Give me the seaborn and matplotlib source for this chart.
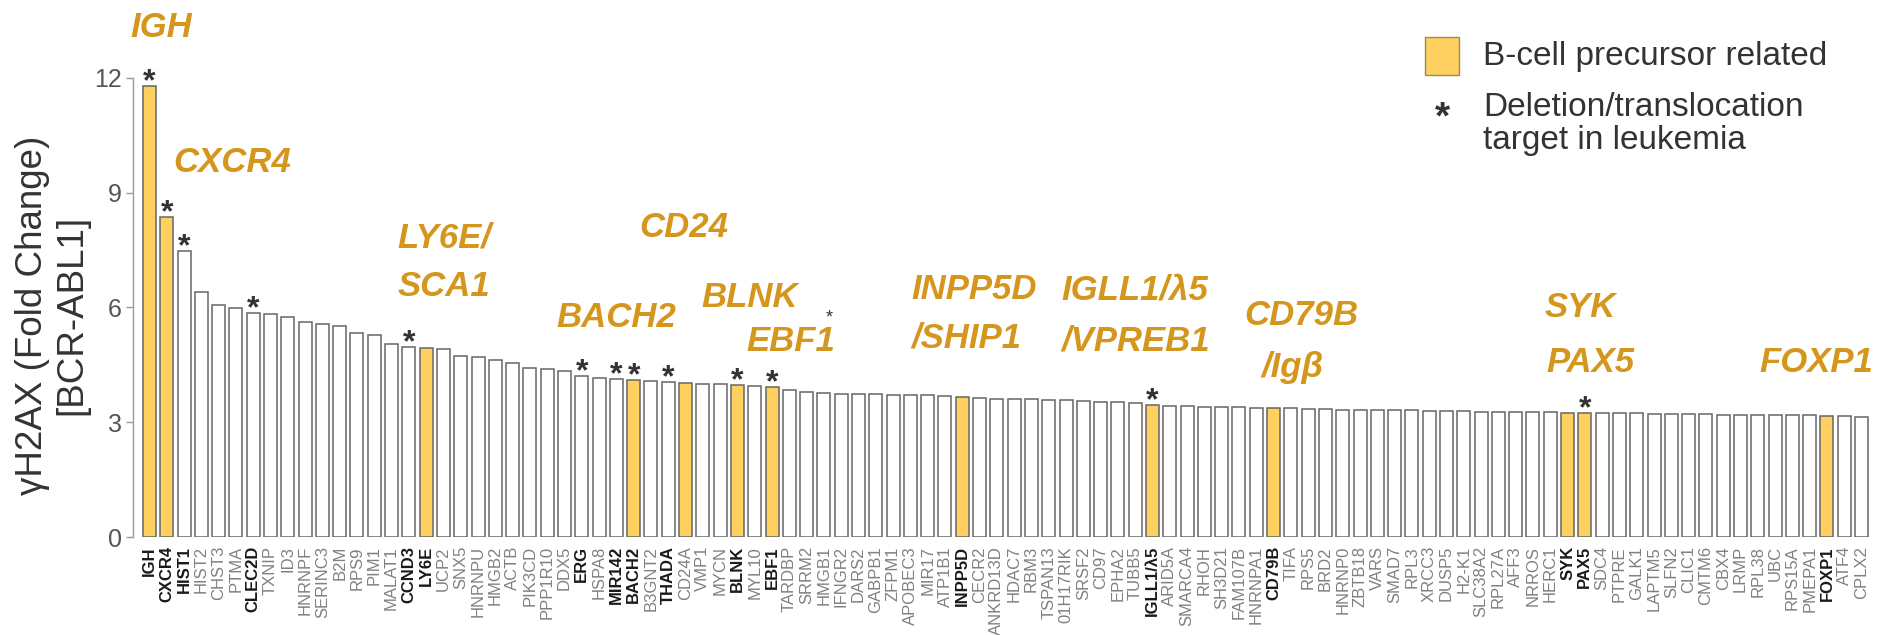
import pandas as pd
import numpy as np
from matplotlib import pyplot as plt
from matplotlib.patches import Rectangle
import seaborn as sns

# genes, ranked by fold change
genes = ["IGH", "CXCR4", "HIST1", "HIST2", "CHST3", "PTMA", "CLEC2D", "TXNIP", "ID3", "HNRNPF",
         "SERINC3", "B2M", "RPS9", "PIM1", "MALAT1", "CCND3", "LY6E", "UCP2", "SNX5", "HNRNPU",
         "HMGB2", "ACTB", "PIK3CD", "PPP1R10", "DDX5", "ERG", "HSPA8", "MIR142", "BACH2", "B3GNT2",
         "THADA", "CD24A", "VMP1", "MYCN", "BLNK", "MYL10", "EBF1", "TARDBP", "SRRM2", "HMGB1",
         "IFNGR2", "DARS2", "GABPB1", "ZFPM1", "APOBEC3", "MIR17", "ATP1B1", "INPP5D", "CECR2", "ANKRD13D",
         "HDAC7", "RBM3", "TSPAN13", "01H17RIK", "SRSF2", "CD97", "EPHA2", "TUBB5", "IGLL1/λ5", "ARID5A",
         "SMARCA4", "RHOH", "SH3D21", "FAM107B", "HNRNPA1", "CD79B", "TIFA", "RPS5", "BRD2", "HNRNP0",
         "ZBTB18", "VARS", "SMAD7", "RPL3", "XRCC3", "DUSP5", "H2-K1", "SLC38A2", "RPL27A", "AFF3",
         "NRROS", "HERC1", "SYK", "PAX5", "SDC4", "PTPRE", "GALK1", "LAPTM5", "SLFN2", "CLIC1",
         "CMTM6", "CBX4", "LRMP", "RPL38", "UBC", "RPS15A", "PMEPA1", "FOXP1", "ATF4", "CPLX2"]

fold_change = [11.80, 8.37, 7.48, 6.41, 6.07, 5.99, 5.86, 5.84, 5.75, 5.62,
               5.57, 5.52, 5.33, 5.28, 5.05, 4.97, 4.95, 4.92, 4.73, 4.71,
               4.63, 4.55, 4.42, 4.38, 4.33, 4.22, 4.17, 4.13, 4.10, 4.07,
               4.05, 4.03, 4.01, 4.00, 3.97, 3.95, 3.92, 3.84, 3.80, 3.77,
               3.75, 3.74, 3.73, 3.72, 3.71, 3.70, 3.68, 3.66, 3.64, 3.62,
               3.61, 3.60, 3.59, 3.58, 3.56, 3.54, 3.52, 3.50, 3.45, 3.43,
               3.42, 3.41, 3.40, 3.39, 3.38, 3.37, 3.36, 3.35, 3.34, 3.33,
               3.33, 3.32, 3.31, 3.31, 3.30, 3.30, 3.29, 3.28, 3.28, 3.27,
               3.27, 3.26, 3.25, 3.24, 3.24, 3.23, 3.23, 3.22, 3.22, 3.21,
               3.21, 3.20, 3.20, 3.19, 3.19, 3.18, 3.18, 3.17, 3.16, 3.15]

bcell_genes = ["IGH", "CXCR4", "LY6E", "BACH2", "CD24A", "BLNK", "EBF1", "INPP5D",
               "IGLL1/λ5", "CD79B", "SYK", "PAX5", "FOXP1"]
leukemia_targets = ["IGH", "CXCR4", "HIST1", "CLEC2D", "CCND3", "ERG", "MIR142", "BACH2",
                    "THADA", "BLNK", "EBF1", "IGLL1/λ5", "PAX5"]
bold_labels = ["IGH", "CXCR4", "HIST1", "CLEC2D", "CCND3", "LY6E", "ERG", "MIR142", "BACH2",
               "THADA", "BLNK", "EBF1", "INPP5D", "IGLL1/λ5", "CD79B", "SYK", "PAX5", "FOXP1"]

df = pd.DataFrame({"gene": genes, "fc": fold_change})

YELLOW = "#FDD060"
GOLD = "#D4961C"

sns.set_style("white")
plt.rcParams['font.family'] = ['Liberation Sans', 'DejaVu Sans']

fig = plt.figure(figsize=(18.92, 6.35), dpi=100)
ax = fig.add_axes([0.0703, 0.1543, 0.9191, 0.7229])

pal = {g: (YELLOW if g in bcell_genes else "white") for g in genes}
sns.barplot(data=df, x="gene", y="fc", hue="gene", palette=pal, legend=False,
            width=0.75, edgecolor="#666666", linewidth=1.1, saturation=1, ax=ax)

ax.set_xlim(-0.95, 99.6)
ax.set_ylim(0, 12)
ax.set_yticks([0, 3, 6, 9, 12])
ax.set_xlabel("")
ax.set_ylabel("")
sns.despine(ax=ax, bottom=True)
ax.spines["left"].set_color("#9a9a9a")
ax.spines["left"].set_linewidth(1.0)
ax.tick_params(axis="y", which="both", left=True, length=5, width=1, color="#9a9a9a",
               labelsize=18, labelcolor="#555555", pad=3)
ax.tick_params(axis="x", bottom=False, pad=3)

# x tick labels: bold/black for highlighted genes
ax.set_xticks(range(len(genes)))
ax.set_xticklabels(genes, rotation=90, fontsize=12)
for lab in ax.get_xticklabels():
    if lab.get_text() in bold_labels:
        lab.set_fontweight("bold")
        lab.set_color("#1a1a1a")
    else:
        lab.set_color("#808080")

# stars above leukemia targets
for i, g in enumerate(genes):
    if g in leukemia_targets:
        ax.annotate("*", (i, fold_change[i]), xytext=(0, -3), textcoords="offset points",
                    ha="center", va="baseline", fontsize=23, fontweight="bold",
                    color="#333333", annotation_clip=False)

# gene annotations
notes = [("IGH", 0.69, 13.33, "center"), ("CXCR4", 1.36, 9.78, "left"),
         ("LY6E/", 14.36, 7.82, "left"), ("SCA1", 14.36, 6.54, "left"),
         ("CD24", 28.3, 8.10, "left"), ("BACH2", 23.55, 5.75, "left"),
         ("BLNK", 31.94, 6.27, "left"), ("EBF1", 34.54, 5.10, "left"),
         ("INPP5D", 44.08, 6.46, "left"), ("/SHIP1", 44.08, 5.20, "left"),
         ("IGLL1/λ5", 52.75, 6.46, "left"), ("/VPREB1", 52.75, 5.12, "left"),
         ("CD79B", 63.3, 5.78, "left"), ("/Igβ", 64.3, 4.42, "left"),
         ("SYK", 80.66, 5.99, "left"), ("PAX5", 80.78, 4.55, "left"),
         ("FOXP1", 93.09, 4.55, "left")]
for txt, x, y, ha in notes:
    ax.text(x, y, txt, ha=ha, va="center", fontsize=25, fontweight="bold",
            fontstyle="italic", color=GOLD, clip_on=False)
ax.text(39.33, 5.73, "*", ha="center", va="center", fontsize=13, color="#333333", clip_on=False)

# y label
fig.text(52 / 1892, 0.504, "γH2AX (Fold Change)\n[BCR-ABL1]", rotation=90, ha="center",
         va="center", fontsize=26.5, color="#333333", linespacing=1.15)

# legend
fig.add_artist(Rectangle((1425 / 1892, 1 - 75 / 635), 34 / 1892, 38 / 635,
                         facecolor=YELLOW, edgecolor="#a08a50", linewidth=1,
                         transform=fig.transFigure))
fig.text(1483 / 1892, 1 - 56 / 635, "B-cell precursor related", ha="left", va="center",
         fontsize=24, color="#333333")
fig.text(1442 / 1892, 1 - 118 / 635, "*", ha="center", va="center", fontsize=28,
         fontweight="bold", color="#333333")
fig.text(1483 / 1892, 1 - 124 / 635, "Deletion/translocation\ntarget in leukemia",
         ha="left", va="center", fontsize=24, color="#333333", linespacing=1.05)

fig.savefig("out.png", dpi=100)
